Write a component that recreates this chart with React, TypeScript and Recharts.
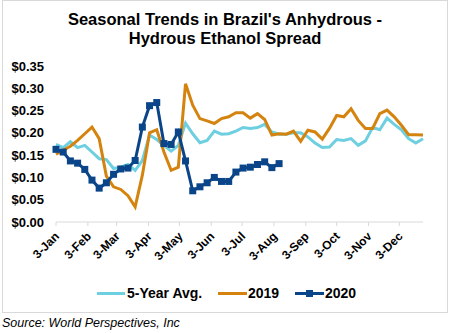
import React from 'react';
import { LineChart, Line, XAxis, YAxis } from 'recharts';

const weekDays = [3, 10, 17, 24, 31, 38, 45, 52, 59, 66, 73, 80, 87, 94, 101, 108, 115, 122, 129, 136, 143, 150, 157, 164, 171, 178, 185, 192, 199, 206, 213, 220, 227, 234, 241, 248, 255, 262, 269, 276, 283, 290, 297, 304, 311, 318, 325, 332, 339, 346, 353, 360];

const tickDays = [3, 34, 62, 93, 123, 154, 184, 215, 246, 276, 307, 337];
const tickLabels = ['3-Jan', '3-Feb', '3-Mar', '3-Apr', '3-May', '3-Jun', '3-Jul', '3-Aug', '3-Sep', '3-Oct', '3-Nov', '3-Dec'];

const yTicks = [0, 0.05, 0.1, 0.15, 0.2, 0.25, 0.3, 0.35];

const avg5 = [0.174, 0.167, 0.180, 0.167, 0.172, 0.157, 0.142, 0.140, 0.120, 0.123,
  0.129, 0.116, 0.138, 0.195, 0.185, 0.172, 0.159, 0.172, 0.222, 0.198,
  0.178, 0.183, 0.204, 0.197, 0.198, 0.204, 0.212, 0.210, 0.212, 0.219,
  0.202, 0.197, 0.197, 0.200, 0.200, 0.191, 0.177, 0.167, 0.168, 0.185,
  0.183, 0.187, 0.172, 0.182, 0.212, 0.207, 0.233, 0.219, 0.207, 0.187,
  0.177, 0.187];

const y2019 = [0.152, 0.161, 0.170, 0.183, 0.198, 0.213, 0.187, 0.103, 0.079, 0.073,
  0.059, 0.034, 0.105, 0.200, 0.207, 0.157, 0.116, 0.123, 0.310, 0.262,
  0.232, 0.227, 0.221, 0.232, 0.236, 0.245, 0.245, 0.233, 0.243, 0.230,
  0.195, 0.198, 0.197, 0.204, 0.181, 0.206, 0.202, 0.186, 0.210, 0.239,
  0.236, 0.254, 0.228, 0.210, 0.210, 0.243, 0.251, 0.236, 0.217, 0.196,
  0.196, 0.195];

const y2020 = [0.163, 0.157, 0.137, 0.132, 0.118, 0.094, 0.076, 0.088, 0.107, 0.119,
  0.121, 0.138, 0.213, 0.261, 0.268, 0.176, 0.174, 0.202, 0.137, 0.070,
  0.079, 0.088, 0.100, 0.091, 0.091, 0.112, 0.121, 0.123, 0.129, 0.135,
  0.122, 0.131];

const rows = weekDays.map((d, i) => ({
  day: d,
  avg5: avg5[i],
  y2019: y2019[i],
  y2020: i < y2020.length ? y2020[i] : null,
}));

const FONT = '"Liberation Sans", Arial, sans-serif';
const C_AVG = '#6ECFE0';
const C_2019 = '#D4840E';
const C_2020 = '#0B4589';

const XTick = (props: any) => {
  const { x, y, payload } = props;
  const idx = tickDays.indexOf(payload.value);
  const label = idx >= 0 ? tickLabels[idx] : '';
  const ax = x + 4;
  const ay = y + 9;
  return (
    <text x={ax} y={ay} textAnchor="end" fontSize={12} fontWeight="bold" fill="#000"
      fontFamily={FONT} transform={`rotate(-45, ${ax}, ${ay})`}>
      {label}
    </text>
  );
};

const SquareDot = (props: any) => {
  const { cx, cy, index } = props;
  if (cx == null || cy == null || props.value == null) return <g key={`d${index}`} />;
  return <rect key={`d${index}`} x={cx - 3.5} y={cy - 3.5} width={7} height={7} fill={C_2020} />;
};

export default function App() {
  return (
    <div style={{ position: 'absolute', left: 0, top: 0, width: 450, height: 333, background: '#fff', fontFamily: FONT }}>
      <div style={{ position: 'absolute', left: 2, top: 0, width: 446, height: 313, border: '1px solid #d9d9d9', boxSizing: 'border-box' }} />
      <div style={{ position: 'absolute', left: 0, top: 10, width: 450, textAlign: 'center', fontWeight: 'bold', fontSize: 16.5, lineHeight: '19px', color: '#000' }}>
        Seasonal Trends in Brazil's Anhydrous -<br />Hydrous Ethanol Spread
      </div>
      <div style={{ position: 'absolute', left: 0, top: 0 }}>
        <LineChart width={450} height={333} data={rows} margin={{ top: 66, right: 27, left: 6, bottom: 80 }}>
          <XAxis dataKey="day" type="number" domain={[3, 360]} ticks={tickDays} interval={0}
            axisLine={{ stroke: '#d9d9d9' }} tickLine={{ stroke: '#d9d9d9' }} tickSize={4} tickMargin={2}
            height={31} tick={<XTick />} />
          <YAxis domain={[0, 0.35]} ticks={yTicks} interval={0} axisLine={false} tickLine={false}
            tickSize={0} width={50} tickMargin={12}
            tickFormatter={(v: number) => `$${v.toFixed(2)}`}
            tick={{ fontSize: 13, fontWeight: 'bold', fill: '#000', fontFamily: FONT }} />
          <Line dataKey="avg5" stroke={C_AVG} strokeWidth={3} dot={false} isAnimationActive={false} />
          <Line dataKey="y2019" stroke={C_2019} strokeWidth={3} dot={false} isAnimationActive={false} />
          <Line dataKey="y2020" stroke={C_2020} strokeWidth={3} dot={<SquareDot />} isAnimationActive={false} connectNulls={false} />
        </LineChart>
      </div>
      <div style={{ position: 'absolute', left: 0, top: 284, width: 450, height: 18, fontSize: 14, fontWeight: 'bold', color: '#000' }}>
        <div style={{ position: 'absolute', left: 97, top: 8, width: 28, height: 3, background: C_AVG }} />
        <div style={{ position: 'absolute', left: 127, top: 0, lineHeight: '18px' }}>5-Year Avg.</div>
        <div style={{ position: 'absolute', left: 218, top: 8, width: 29, height: 3, background: C_2019 }} />
        <div style={{ position: 'absolute', left: 248, top: 0, lineHeight: '18px' }}>2019</div>
        <div style={{ position: 'absolute', left: 295, top: 8, width: 29, height: 3, background: C_2020 }} />
        <div style={{ position: 'absolute', left: 306, top: 6, width: 7, height: 7, background: C_2020 }} />
        <div style={{ position: 'absolute', left: 325, top: 0, lineHeight: '18px' }}>2020</div>
      </div>
      <div style={{ position: 'absolute', left: 2, top: 316, fontSize: 12.5, fontStyle: 'italic', color: '#000', lineHeight: '15px' }}>
        Source: World Perspectives, Inc
      </div>
    </div>
  );
}
